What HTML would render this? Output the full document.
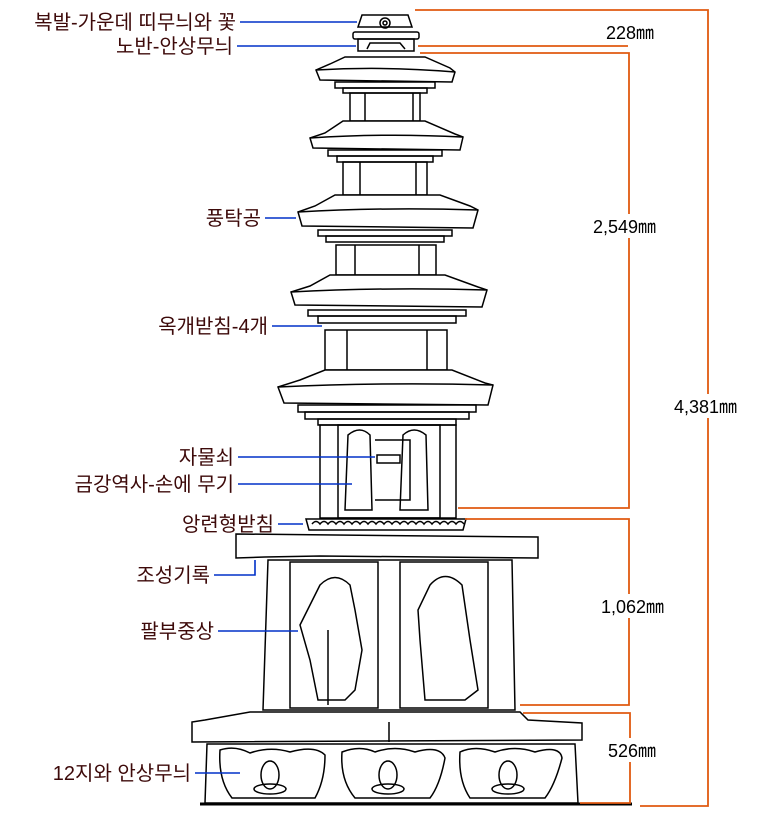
<!DOCTYPE html>
<html><head><meta charset="utf-8"><style>
html,body{margin:0;padding:0;background:#fff;}
svg{display:block;}
.l{font-family:"Liberation Sans","Noto Sans CJK KR",sans-serif;font-size:20px;fill:#3d0a0a;text-anchor:end;}
.d{font-family:"Liberation Sans","Noto Sans CJK KR",sans-serif;font-size:18px;fill:#000;}
</style></head><body>
<svg width="769" height="828" viewBox="0 0 769 828" xmlns="http://www.w3.org/2000/svg">
<g fill="none" stroke="#000" stroke-width="1.5">
<!-- finial -->
<path d="M362 15 L408 15 L412 27 L358 27 Z" fill="#fff"/>
<circle cx="385" cy="23" r="5"/><circle cx="385" cy="23" r="2"/>
<rect x="353" y="32" width="66" height="7" rx="2"/>
<rect x="358" y="39" width="56" height="12"/>
<path d="M367 49 L370 43 L400 43 L405 49"/>
<!-- roof 1 -->
<path d="M345 57 L425 57 L450 68 L455 72 L452 82 L320 80 L316 70 L330 64 Z" fill="#fff"/>
<path d="M316 70 Q385 66 455 72"/>
<rect x="335" y="82" width="100" height="6"/><rect x="343" y="88" width="84" height="5"/>
<rect x="350" y="93" width="70" height="28"/><line x1="365" y1="93" x2="365" y2="121"/><line x1="413" y1="93" x2="413" y2="121"/>
<!-- roof 2 -->
<path d="M343 121 L425 121 L455 134 L463 137 L460 150 L313 148 L310 138 L325 133 Z" fill="#fff"/>
<path d="M310 138 Q385 133 462 137"/>
<rect x="328" y="150" width="114" height="6"/><rect x="337" y="156" width="96" height="6"/>
<rect x="343" y="162" width="84" height="33"/><line x1="360" y1="162" x2="360" y2="195"/><line x1="416" y1="162" x2="416" y2="195"/>
<!-- roof 3 -->
<path d="M335 195 L440 195 L470 206 L478 210 L473 228 L302 226 L298 212 L315 206 Z" fill="#fff"/>
<path d="M298 212 Q385 207 478 210"/>
<rect x="318" y="230" width="134" height="6"/><rect x="326" y="236" width="118" height="6"/>
<rect x="336" y="245" width="100" height="30"/><line x1="355" y1="245" x2="355" y2="275"/><line x1="419" y1="245" x2="419" y2="275"/>
<!-- roof 4 -->
<path d="M330 275 L445 275 L478 287 L487 290 L482 307 L295 305 L291 292 L310 286 Z" fill="#fff"/>
<path d="M291 292 Q385 287 487 290"/>
<rect x="308" y="310" width="158" height="6"/><rect x="318" y="316" width="138" height="7"/>
<rect x="325" y="330" width="122" height="40"/><line x1="347" y1="330" x2="347" y2="370"/><line x1="427" y1="330" x2="427" y2="370"/>
<!-- roof 5 -->
<path d="M325 370 L452 370 L485 383 L493 385 L488 405 L284 403 L278 387 L300 380 Z" fill="#fff"/>
<path d="M278 387 Q385 382 493 385"/>
<rect x="298" y="405" width="178" height="7"/><rect x="305" y="412" width="164" height="7"/><rect x="318" y="419" width="138" height="6"/>
<!-- first body -->
<rect x="320" y="425" width="136" height="93"/>
<rect x="338" y="425" width="102" height="93"/>
<path d="M348 435 Q360 425 370 435 L372 510 L345 510 Z"/>
<path d="M403 435 Q414 425 426 435 L428 510 L400 510 Z"/>
<path d="M375 440 L410 440 L410 500 L375 500"/>
<rect x="377" y="455" width="23" height="8"/>
<!-- lotus -->
<path d="M306 519 L466 519 L463 530 L309 530 Z"/>
<path d="M312 524 q4 -5 8 0 q4 -5 8 0 q4 -5 8 0 q4 -5 8 0 q4 -5 8 0 q4 -5 8 0 q4 -5 8 0 q4 -5 8 0 q4 -5 8 0 q4 -5 8 0 q4 -5 8 0 q4 -5 8 0 q4 -5 8 0 q4 -5 8 0 q4 -5 8 0 q4 -5 8 0 q4 -5 8 0 q4 -5 8 0 q4 -5 8 0"/>
<!-- upper stylobate cap -->
<path d="M236 534 L538 537 L538 558 L320 556 L265 557 L236 558 Z"/>
<!-- middle body -->
<path d="M268 560 L512 560 L515 710 L263 710 Z"/>
<rect x="290" y="562" width="88" height="146"/><rect x="400" y="562" width="88" height="146"/>
<path d="M320 585 Q335 570 350 585 L355 610 L362 650 L355 690 L345 700 L318 700 L310 660 L300 625 Z"/>
<line x1="328" y1="630" x2="328" y2="705"/>
<path d="M430 585 Q445 568 462 585 L470 640 L478 690 L465 700 L425 700 L420 640 L418 610 Z"/>
<!-- lower cap -->
<path d="M250 712 L520 712 L528 720 L582 723 L582 740 L192 742 L192 722 L205 720 Z"/>
<line x1="389" y1="722" x2="389" y2="742"/>
<!-- base -->
<path d="M207 744 L575 744 L578 803 L205 803 Z"/>
<path d="M220 750 Q235 745 250 753 Q270 746 290 752 Q315 745 325 755 Q325 780 315 798 L232 798 Q218 780 220 750 Z"/>
<path d="M342 752 Q360 745 375 752 Q395 745 415 752 Q440 745 445 758 Q440 785 430 798 L355 798 Q340 780 342 752 Z"/>
<path d="M460 752 Q475 745 495 752 Q515 745 535 752 Q560 745 562 758 Q555 785 545 798 L470 798 Q458 780 460 752 Z"/>
<ellipse cx="270" cy="775" rx="9" ry="14"/><ellipse cx="270" cy="789" rx="16" ry="5"/>
<ellipse cx="388" cy="775" rx="9" ry="14"/><ellipse cx="388" cy="789" rx="16" ry="5"/>
<ellipse cx="508" cy="775" rx="9" ry="14"/><ellipse cx="508" cy="789" rx="16" ry="5"/>
</g>
<line x1="200" y1="804" x2="632" y2="804" stroke="#000" stroke-width="3"/>
<!-- dimension lines -->
<g stroke="#e05a10" stroke-width="1.8" fill="none">
<path d="M415 10 L708 10 L708 806 L640 806"/>
<path d="M418 46 L628 46"/><path d="M420 53 L629 53 L629 508 L458 508"/>
<path d="M465 519 L629 519 L629 705 L520 705"/>
<path d="M523 713 L630 713 L630 803 L580 803"/>
</g>
<rect x="600" y="20" width="75" height="24" fill="#fff"/>
<text class="d" x="606" y="39">228㎜</text>
<rect x="590" y="214" width="85" height="24" fill="#fff"/>
<text class="d" x="593" y="233">2,549㎜</text>
<rect x="672" y="394" width="85" height="24" fill="#fff"/>
<text class="d" x="674" y="413">4,381㎜</text>
<rect x="598" y="594" width="80" height="24" fill="#fff"/>
<text class="d" x="601" y="613">1,062㎜</text>
<rect x="605" y="738" width="70" height="24" fill="#fff"/>
<text class="d" x="608" y="757">526㎜</text>
<!-- labels -->
<g stroke="#0030c8" stroke-width="1.6" fill="none">
<line x1="240" y1="22" x2="357" y2="22"/>
<line x1="237" y1="46" x2="356" y2="46"/>
<line x1="265" y1="218" x2="296" y2="218"/>
<line x1="272" y1="326" x2="322" y2="326"/>
<line x1="238" y1="457" x2="375" y2="457"/>
<line x1="238" y1="484" x2="352" y2="484"/>
<line x1="278" y1="524" x2="303" y2="524"/>
<path d="M214 575 L255 575 L255 560"/>
<line x1="218" y1="631" x2="298" y2="631"/>
<line x1="195" y1="773" x2="240" y2="773"/>
</g>
<text class="l" x="236" y="29">복발-가운데 띠무늬와 꽃</text>
<text class="l" x="233" y="53">노반-안상무늬</text>
<text class="l" x="261" y="225">풍탁공</text>
<text class="l" x="268" y="333">옥개받침-4개</text>
<text class="l" x="234" y="464">자물쇠</text>
<text class="l" x="234" y="491">금강역사-손에 무기</text>
<text class="l" x="274" y="531">앙련형받침</text>
<text class="l" x="210" y="582">조성기록</text>
<text class="l" x="214" y="638">팔부중상</text>
<text class="l" x="191" y="780">12지와 안상무늬</text>
</svg>
</body></html>
